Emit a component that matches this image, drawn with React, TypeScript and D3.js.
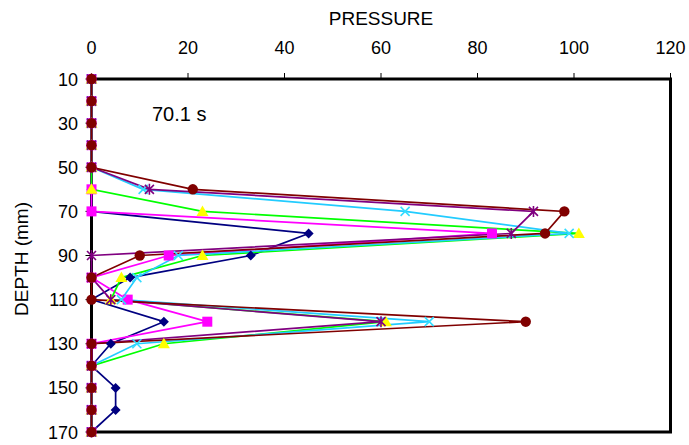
import React from "react";
import * as d3 from "d3";

const depths = [10, 20, 30, 40, 50, 60, 70, 80, 90, 100, 110, 120, 130, 140, 150, 160, 170];
const navySeries = [0, 0, 0, 0, 0, 0, 0, 45, 33, 8, 0, 15, 4, 0, 5, 5, 0];
const magentaSeries = [0, 0, 0, 0, 0, 0, 0, 83, 16, 0, 7.5, 24, 0, 0, 0, 0, 0];
const yellowSeries = [0, 0, 0, 0, 0, 0, 23, 101, 23, 6.2, 4, 61, 15, 0, 0, 0, 0];
const cyanSeries = [0, 0, 0, 0, 0, 10.7, 65, 99, 18, 9.4, 6.2, 70, 9.4, 0, 0, 0, 0];
const purpleSeries = [0, 0, 0, 0, 0, 12, 91.6, 87, 0, 0, 4, 60, 0, 0, 0, 0, 0];
const maroonSeries = [0, 0, 0, 0, 0, 21, 98, 94, 10, 0, 0, 90, 0, 0, 0, 0, 0];

const xTicks = [0, 20, 40, 60, 80, 100, 120];
const yTicks = [10, 30, 50, 70, 90, 110, 130, 150, 170];
const xTitle = "PRESSURE";
const yTitle = "DEPTH (mm)";
const annotation = "70.1 s";

type Shape = "diamond" | "square" | "triangle" | "x" | "star" | "circle";
const seriesDefs: { values: number[]; line: string; marker: string; shape: Shape }[] = [
  { values: navySeries, line: "#000080", marker: "#000080", shape: "diamond" },
  { values: magentaSeries, line: "#FF00FF", marker: "#FF00FF", shape: "square" },
  { values: yellowSeries, line: "#00FF00", marker: "#FFFF00", shape: "triangle" },
  { values: cyanSeries, line: "#22CCFF", marker: "#33DDFF", shape: "x" },
  { values: purpleSeries, line: "#800080", marker: "#800080", shape: "star" },
  { values: maroonSeries, line: "#800000", marker: "#800000", shape: "circle" },
];

function Marker({ shape, cx, cy, color }: { shape: Shape; cx: number; cy: number; color: string }) {
  switch (shape) {
    case "diamond":
      return <path d={`M${cx},${cy - 5}L${cx + 5},${cy}L${cx},${cy + 5}L${cx - 5},${cy}Z`} fill={color} />;
    case "square":
      return <rect x={cx - 5} y={cy - 5} width={10} height={10} fill={color} />;
    case "triangle":
      return <path d={`M${cx},${cy - 6}L${cx + 6},${cy + 4.5}L${cx - 6},${cy + 4.5}Z`} fill={color} />;
    case "x":
      return (
        <path d={`M${cx - 4.5},${cy - 4.5}L${cx + 4.5},${cy + 4.5}M${cx - 4.5},${cy + 4.5}L${cx + 4.5},${cy - 4.5}`} stroke={color} strokeWidth={1.6} fill="none" />
      );
    case "star":
      return (
        <path d={`M${cx - 4.5},${cy - 4.5}L${cx + 4.5},${cy + 4.5}M${cx - 4.5},${cy + 4.5}L${cx + 4.5},${cy - 4.5}M${cx},${cy - 5.5}L${cx},${cy + 5.5}`} stroke={color} strokeWidth={1.6} fill="none" />
      );
    case "circle":
      return <circle cx={cx} cy={cy} r={5.2} fill={color} />;
  }
}

export default function App() {
  const W = 689, H = 445;
  const x = d3.scaleLinear().domain([0, 120]).range([91.5, 670.5]);
  const y = d3.scaleLinear().domain([10, 170]).range([79, 432]);
  const line = d3.line<[number, number]>().x((d) => x(d[0])).y((d) => y(d[1]));
  const font = "Liberation Sans, Arial, sans-serif";

  return (
    <svg width={W} height={H} style={{ position: "absolute", left: 0, top: 0, background: "#fff" }} fontFamily={font}>
      <rect x={0} y={0} width={W} height={H} fill="#fff" />
      {/* plot frame */}
      <rect x={x(0)} y={y(10)} width={x(120) - x(0)} height={y(170) - y(10)} fill="none" stroke="#000" strokeWidth={3} />
      {/* top ticks */}
      {xTicks.map((t) => (
        <g key={"xt" + t}>
          <line x1={x(t)} x2={x(t)} y1={y(10) - 6} y2={y(10)} stroke="#000" strokeWidth={1} />
          <text x={x(t)} y={54} textAnchor="middle" fontSize={18} fill="#000">{t}</text>
        </g>
      ))}
      {yTicks.map((t) => (
        <g key={"yt" + t}>
          <line x1={x(0) - 6} x2={x(0)} y1={y(t)} y2={y(t)} stroke="#000" strokeWidth={1} />
          <text x={78} y={y(t) + 6.5} textAnchor="end" fontSize={18} fill="#000">{t}</text>
        </g>
      ))}
      <text x={381} y={24.5} textAnchor="middle" fontSize={19} fill="#000">{xTitle}</text>
      <text transform={`translate(28,259) rotate(-90)`} textAnchor="middle" fontSize={19} fill="#000">{yTitle}</text>
      <text x={152} y={121} fontSize={20} fill="#000">{annotation}</text>
      {/* series lines */}
      {seriesDefs.map((s, i) => (
        <path key={"l" + i} d={line(s.values.map((v, j) => [v, depths[j]] as [number, number])) || ""} fill="none" stroke={s.line} strokeWidth={1.7} />
      ))}
      {/* markers */}
      {seriesDefs.map((s, i) => (
        <g key={"m" + i}>
          {s.values.map((v, j) => (
            <Marker key={j} shape={s.shape} cx={x(v)} cy={y(depths[j])} color={s.marker} />
          ))}
        </g>
      ))}
    </svg>
  );
}
